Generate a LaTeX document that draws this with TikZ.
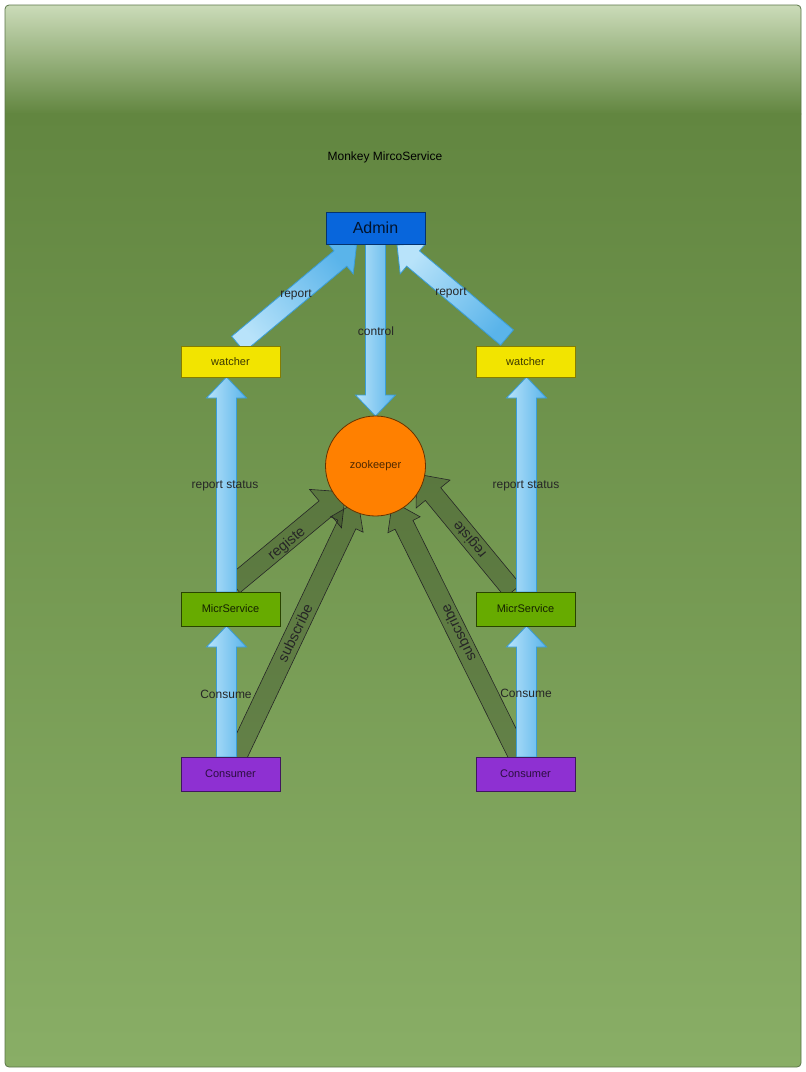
\documentclass[tikz,border=0pt]{standalone}
\usepackage{fontspec}
\setmainfont{Liberation Sans}
\usetikzlibrary{positioning,calc}
\pgfdeclarelayer{bg}
\pgfdeclarelayer{flow}
\pgfsetlayers{bg,flow,main}
\definecolor{bgtop}{HTML}{CCDCBA}
\definecolor{bgmid}{HTML}{628640}
\definecolor{bgbot}{HTML}{89AE66}
\definecolor{bgedge}{HTML}{5A7548}
\definecolor{flowlight}{HTML}{B8E3FA}
\definecolor{flowdark}{HTML}{5AB4EA}
\definecolor{flowedge}{HTML}{3A9DD6}
\definecolor{adminblue}{HTML}{0866DC}
\definecolor{watchyellow}{HTML}{F2E400}
\definecolor{servgreen}{HTML}{67AB00}
\definecolor{conspurple}{HTML}{8E30D2}
\definecolor{zkorange}{HTML}{FF8000}
% fat arrow: style, half shaft, half head, head length, from, to
\newcommand{\fatarrow}[6]{%
  \coordinate (fa-base) at ($(#6)!#4!(#5)$);
  \draw[#1] ($(#5)!#2!-90:(#6)$) -- ($(fa-base)!#2!90:(#5)$)
    -- ($(fa-base)!#3!90:(#5)$) -- (#6)
    -- ($(fa-base)!#3!-90:(#5)$) -- ($(fa-base)!#2!-90:(#5)$)
    -- ($(#5)!#2!90:(#6)$) -- cycle;
}
\begin{document}
\begin{tikzpicture}[
  x=1pt,y=-1pt,
  box/.style={draw,rectangle,minimum width=99pt,minimum height=32pt,
   inner sep=0pt,outer sep=0pt,line width=0.8pt,
   font=\fontsize{11}{13}\selectfont},
  lbl/.style={inner sep=1pt,text=black!85,font=\fontsize{12}{14}\selectfont},
  slbl/.style={lbl,font=\fontsize{14.5}{16}\selectfont},
  blueflow/.style={draw=flowedge,line width=0.8pt,
   left color=flowlight,right color=flowdark},
  darkflow/.style={draw=black!85,line width=0.6pt,fill=black,fill opacity=0.2}
  ]
  \useasboundingbox (0,0) rectangle (806,1072);
  \begin{pgfonlayer}{bg}
   \begin{scope}
    \clip[rounded corners=4pt] (5,5) rectangle (801,1067);
    \shade[top color=bgtop,bottom color=bgmid] (5,4) rectangle (801,114);
    \shade[top color=bgmid,bottom color=bgbot] (5,113) rectangle (801,1068);
   \end{scope}
   \draw[rounded corners=4pt,draw=bgedge,line width=0.8pt] (5,5) rectangle (801,1067);
  \end{pgfonlayer}

  \node[font=\fontsize{12}{14}\selectfont] (title) at (385,157) {Monkey MircoService};

  \node[box,fill=adminblue,draw=adminblue!50!black,text=adminblue!20!black,
   font=\fontsize{16}{19}\selectfont] (adm) at (375.5,228) {Admin};
  \node[box,minimum height=31pt,fill=watchyellow,draw=watchyellow!55!black,
   text=watchyellow!25!black] (wl) at (230.5,361.5) {watcher};
  \node[box,minimum height=31pt,fill=watchyellow,draw=watchyellow!55!black,
   text=watchyellow!25!black] (wr) at (525.5,361.5) {watcher};
  \node[draw,circle,minimum size=100pt,inner sep=0pt,outer sep=0pt,
   line width=0.8pt,fill=zkorange,draw=zkorange!40!black,
   text=zkorange!30!black,font=\fontsize{11}{13}\selectfont] (zk) at (375.5,466) {zookeeper};
  \node[box,minimum height=34pt,fill=servgreen,draw=servgreen!40!black,
   text=servgreen!20!black] (ml) at (230.5,609) {MicrService};
  \node[box,minimum height=34pt,fill=servgreen,draw=servgreen!40!black,
   text=servgreen!20!black] (mr) at (525.5,609) {MicrService};
  \node[box,minimum height=34pt,fill=conspurple,draw=conspurple!45!black,
   text=conspurple!30!black] (cl) at (230.5,774) {Consumer};
  \node[box,minimum height=34pt,fill=conspurple,draw=conspurple!45!black,
   text=conspurple!30!black] (cr) at (525.5,774) {Consumer};

  \coordinate (rlt) at ($(wl.north)+(7.5,-2)$);
  \coordinate (rlh) at ($(adm.south)+(-19,1)$);
  \coordinate (rrt) at ($(wr.north)+(-18.5,-8.5)$);
  \coordinate (rrh) at ($(adm.south)+(21.5,1)$);
  \coordinate (lregt) at ($(ml.north)+(3,-7)$);
  \coordinate (lregh) at ($(zk.center)+(-30,26)$);
  \coordinate (rregt) at ($(mr.north)+(-12.5,-1)$);
  \coordinate (rregh) at ($(zk.center)+(41,8)$);
  \coordinate (lsubt) at ($(cl.north)+(6,0)$);
  \coordinate (lsubh) at ($(zk.center)+(-17.5,35)$);
  \coordinate (rsubt) at ($(cr.north)+(-6.5,0)$);
  \coordinate (rsubh) at ($(zk.center)+(17,35.5)$);

  \begin{pgfonlayer}{flow}
   \fatarrow{darkflow}{10pt}{25pt}{26pt}{lregt}{lregh}
   \fatarrow{darkflow}{10pt}{22pt}{26pt}{rregt}{rregh}
   \fatarrow{darkflow}{10pt}{18pt}{26pt}{lsubt}{lsubh}
   \fatarrow{darkflow}{10pt}{18pt}{26pt}{rsubt}{rsubh}
   \fatarrow{blueflow,shading angle=130}{10pt}{20pt}{21pt}{rlt}{rlh}
   \fatarrow{blueflow,shading angle=50}{10pt}{20pt}{21pt}{rrt}{rrh}
   \fatarrow{blueflow}{10pt}{20pt}{21pt}{adm.south}{zk.north}
   \fatarrow{blueflow}{10pt}{20pt}{21pt}{$(ml.north)+(-4,0)$}{$(wl.south)+(-4,0)$}
   \fatarrow{blueflow}{10pt}{20pt}{21pt}{$(mr.north)+(1,0)$}{$(wr.south)+(1,0)$}
   \fatarrow{blueflow}{10pt}{20pt}{21pt}{$(cl.north)+(-4,0)$}{$(ml.south)+(-4,0)$}
   \fatarrow{blueflow}{10pt}{20pt}{21pt}{$(cr.north)+(1,0)$}{$(mr.south)+(1,0)$}
  \end{pgfonlayer}

  \node[lbl] (lrep) at (296,295) {report};
  \node[lbl] (rrep) at (451,293) {report};
  \node[lbl] (ctl) at (376,331) {control};
  \node[lbl] (lstat) at (225,486) {report status};
  \node[lbl] (rstat) at (526,486) {report status};
  \node[lbl] (lcons) at (226,694) {Consume};
  \node[lbl] (rcons) at (526,693) {Consume};
  \node[slbl,rotate=40] (lreg) at (287,544) {registe};
  \node[slbl,rotate=130] (rreg) at (470,539) {registe};
  \node[slbl,rotate=64] (lsub) at (295,633) {subscribe};
  \node[slbl,rotate=116] (rsub) at (458,633) {subscribe};
 \end{tikzpicture}
\end{document}
